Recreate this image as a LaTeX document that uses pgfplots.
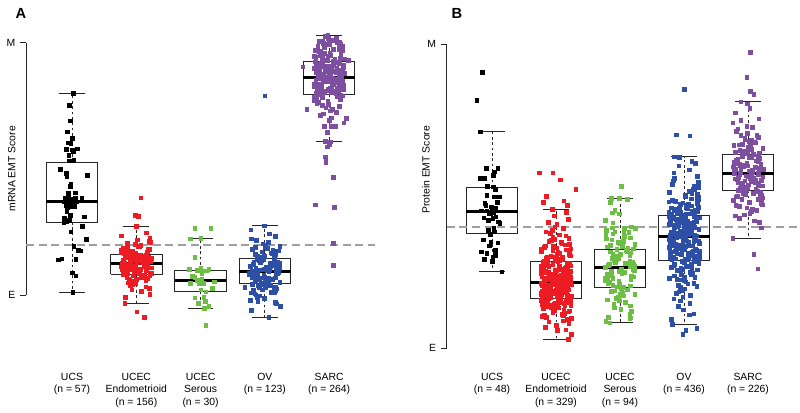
\documentclass[border=0pt]{standalone}
\usepackage{pgfplots}
\pgfplotsset{compat=1.18}
\usepackage{pgfplotstable}
\usepackage{fontspec}
\setmainfont{Liberation Sans}
\definecolor{cRed}{HTML}{ED1C24}
\definecolor{cGreen}{HTML}{6CBE45}
\definecolor{cBlue}{HTML}{2E4FA6}
\definecolor{cPurple}{HTML}{7E4FA1}
\newcommand\ff{\fontsize{7.8}{9.4}\selectfont}
\pgfplotsset{
 pts/.style={only marks, mark=square*, mark size=1.35pt, #1},
 boxln/.style={black!85, line width=0.6pt, solid, unbounded coords=jump, mark=none},
 whisk/.style={black!85, line width=0.6pt, dash pattern=on 2pt off 2pt, unbounded coords=jump, mark=none},
 medln/.style={black, line width=2.2pt, unbounded coords=jump, mark=none},
 emt/.style={
  scale only axis, clip=false,
  ymin=0, ymax=1000,
  axis y line*=left, axis x line*=bottom,
  x axis line style={draw=none},
  y axis line style={draw=black!85, line width=0.6pt, -},
  xtick={1,2,3,4,5},
  xtick style={draw=none},
  ytick={0,1000}, yticklabels={E,M},
  ytick style={draw=black!85, line width=0.6pt},
  tick align=outside, major tick length=4.5pt,
  tick label style={font=\ff},
  xticklabel style={align=center, anchor=north},
  label style={font=\ff},
 }
}

% ---------- Panel A (mRNA), y: E=0, M=1000 ----------
\pgfplotstableread{
dx y
2 799
-4 753
-3 690
-7 647
0 621
-2 601
-6 604
-9 577
0 575
8 579
2 568
-5 555
3 535
-4 532
-18 499
-9 482
-8 469
24 474
-2 439
-3 432
5 405
-6 403
-11 384
-8 379
0 381
5 384
15 384
-12 370
-4 366
-9 355
3 360
-6 372
-2 376
7 370
-1 350
-7 345
4 352
-8 333
-3 317
-12 304
19 310
-13 287
-9 290
-4 296
16 273
-2 251
22 221
3 194
10 178
13 176
-21 139
-16 143
6 141
0 88
6 77
1 11
-5 390
}\tAucs

\pgfplotstableread{
dx y
-18 -32
-17 -8
21 4
8 14
-7 20
20 26
15 32
-9 36
-6 40
-2 44
-12 48
-3 51
-6 54
-9 57
15 59
0 62
-11 65
17 67
-15 69
11 72
10 74
-5 76
21 78
12 80
-20 82
4 84
-15 86
23 87
0 89
-3 91
5 93
-13 95
-21 97
16 98
7 100
-22 101
-11 103
6 104
-21 106
24 108
18 109
-11 111
-23 112
-1 114
-12 115
-8 117
-14 119
-16 120
-22 122
15 123
16 125
-18 126
15 127
18 129
1 130
-9 132
16 133
-10 135
8 136
-1 137
-20 139
-6 140
-3 142
5 144
23 145
0 146
4 148
-14 149
-9 151
11 153
2 154
5 156
-5 158
16 159
-11 161
-1 163
-19 164
-16 167
-2 168
-24 170
17 172
-20 174
-11 176
-24 178
21 181
18 183
-14 186
-20 188
3 191
5 194
7 197
-2 201
-14 205
22 209
20 214
2 219
21 225
-23 234
16 246
0 273
7 386
-2 317
3 312
1 -66
12 -88
-5 110
9 128
-14 95
19 150
-8 118
4 138
-19 105
12 122
-1 143
22 131
-13 85
6 160
-22 126
14 113
-6 176
0 99
17 141
-10 133
8 70
-17 155
}\tAendo

\pgfplotstableread{
dx y
-9 264
16 264
-16 223
0 225
-9 149
-18 102
-5 99
0 106
4 96
9 96
13 102
2 86
-9 70
-5 59
2 62
21 53
-16 46
-3 44
4 46
0 20
8 13
18 26
-9 -11
5 -9
7 -24
-4 -33
13 -44
6 -53
8 -119
-13 75
}\tAser

\pgfplotstableread{
dx y
6 -89
-21 -60
24 -45
18 -35
-11 -27
-23 -20
-1 -13
-12 -8
-8 -3
-14 1
-16 5
-22 9
15 12
16 16
-18 19
15 22
18 25
1 28
-9 30
16 33
-10 36
8 38
-1 40
-20 43
-6 45
-3 47
5 49
23 51
0 54
4 56
-14 58
-9 60
11 62
2 63
5 66
-5 68
16 69
-11 71
-1 73
-19 75
-16 77
-2 79
-24 81
17 83
-20 84
-11 86
-24 88
21 90
18 91
-14 93
-20 95
3 97
5 99
7 101
-2 102
-14 105
22 106
20 108
2 110
21 112
-23 115
16 116
23 118
-18 121
-17 122
21 124
8 127
-7 128
20 130
15 133
-9 135
-6 137
-2 140
-12 142
-3 144
-6 146
-9 149
15 152
0 154
-11 156
17 159
-15 162
11 165
10 168
-5 172
21 175
12 178
-20 181
4 185
-15 189
23 194
0 198
-3 203
5 209
-13 216
-21 223
16 232
7 243
-22 259
-1 275
0 789
-7 100
12 60
-17 130
20 85
3 45
-12 150
9 115
-4 20
14 175
-20 70
6 92
-9 140
18 105
-15 55
1 190
23 125
-23 80
10 10
-2 160
16 -30
-31 31
}\tAov

\pgfplotstableread{
dx y
-6 610
-3 646
5 667
23 682
0 693
4 703
-14 712
-9 718
11 725
2 731
5 737
-5 742
16 747
-11 752
-1 756
-19 760
-16 765
-2 769
-24 772
17 776
-20 780
-11 783
-24 786
21 790
18 793
-14 796
-20 799
3 802
5 805
7 808
-2 811
-14 813
22 816
20 818
2 821
21 824
-23 826
16 829
23 832
-18 834
-17 837
21 840
8 842
-7 845
20 847
15 850
-9 852
-6 855
-2 857
-12 860
-3 862
-6 865
-9 867
15 870
0 871
-11 874
17 876
-15 879
11 881
10 884
-5 887
21 889
12 891
-20 894
4 896
-15 899
23 902
0 904
-3 907
5 909
-13 912
-21 915
16 918
7 921
-22 924
-11 927
6 929
-21 933
24 936
18 939
-11 943
-23 947
-1 949
-12 953
-8 958
-14 962
-16 966
-22 970
15 975
16 980
-18 985
15 990
18 993
1 995
-9 998
16 1002
-10 1005
8 1010
-1 1017
-2 1029
10 800
-8 810
13 820
-15 830
4 840
-21 850
9 855
-4 865
19 870
-12 875
2 880
-17 885
14 890
-6 895
22 900
-10 905
6 910
-19 915
11 920
-3 930
17 940
-14 950
1 960
20 970
-8 980
12 785
-16 795
8 805
-1 815
-22 825
15 835
-9 845
5 860
-18 868
18 878
-5 888
-23 898
3 908
-13 918
9 928
-7 803
14 808
-19 814
3 819
21 823
-12 828
6 833
-23 838
17 843
-3 848
10 853
-15 858
1 863
19 868
-9 873
24 878
-20 883
7 888
-1 893
12 898
-17 903
4 908
22 913
-11 918
15 923
-5 928
9 935
-21 942
2 950
18 958
-13 965
6 973
-8 980
20 988
-2 995
13 1000
-16 1006
0 1012
11 1020
-6 1025
6 119
6 205
-22 358
8 347
6 466
-5 525
-5 540
0 595
2 608
-3 588
-6 548
3 670
-8 670
10 670
27 700
-35 737
-41 905
30 930
}\tAsarc

% ---------- Panel B (protein) ----------
\pgfplotstableread{
dx y
-15 908
-24 815
-18 712
-9 592
9 592
4 581
2 570
-19 559
-12 559
-7 534
2 532
5 523
-8 504
4 499
11 499
-11 477
-1 466
5 460
-17 452
-8 453
-3 442
2 446
6 433
12 411
10 416
1 428
-6 422
-6 389
4 384
-3 376
-14 357
9 347
-4 337
5 323
-17 318
-8 312
1 301
-12 293
0 287
5 307
15 252
-10 470
8 480
-4 445
0 455
3 395
-2 350
-13 430
}\tBucs

\pgfplotstableread{
dx y
19 30
15 61
0 76
-11 87
17 95
-15 102
11 108
10 113
-5 118
21 123
12 127
-20 131
4 134
-15 138
23 141
0 144
-3 147
5 150
-13 152
-21 155
16 158
7 160
-22 162
-11 165
6 167
-21 169
24 172
18 174
-11 176
-23 178
-1 180
-12 182
-8 185
-14 186
-16 188
-22 190
15 192
16 194
-18 196
15 198
18 200
1 202
-9 203
16 205
-10 207
8 209
-1 211
-20 213
-6 214
-3 216
5 218
23 221
0 223
4 226
-14 228
-9 231
11 233
2 236
5 238
-5 241
16 244
-11 246
-1 249
-19 252
-16 254
-2 257
-24 260
17 262
-20 265
-11 269
-24 272
21 275
18 278
-14 281
-20 284
3 287
5 290
7 294
-2 297
-14 300
22 304
20 308
2 311
21 315
-23 320
16 324
23 328
-18 333
-17 338
21 343
8 349
-7 355
20 362
15 370
-9 378
-6 389
-2 400
-12 415
-3 436
-6 457
24 46
-17 69
20 82
11 91
24 99
-21 105
-18 111
14 116
20 121
-3 125
-5 129
-7 133
2 136
14 140
-22 143
-20 146
-2 149
-21 151
23 154
-16 157
-23 159
18 161
17 164
-21 166
-8 168
7 171
-20 173
-15 175
9 177
6 179
2 181
12 184
3 186
6 187
9 189
-15 191
0 193
11 195
-17 197
15 199
-11 201
-10 203
5 204
-21 206
-12 208
20 210
-4 212
15 214
-23 215
0 217
3 220
-5 222
13 225
21 227
-16 230
-7 232
22 235
11 237
-6 240
21 243
-24 245
-18 248
11 251
23 253
1 256
12 259
8 261
14 264
16 267
22 271
-15 274
-16 277
18 280
-15 283
-18 286
-1 289
9 292
-16 296
10 299
-8 302
1 306
20 310
6 313
3 318
-5 322
-23 326
0 331
-4 336
14 341
9 346
-11 352
-2 359
-5 366
5 374
-16 384
11 395
1 408
19 425
16 447
2 60
-8 142
13 148
-20 153
4 158
22 163
-13 168
1 172
17 177
-24 181
9 185
-4 189
19 193
-16 197
6 201
-10 205
24 209
-1 213
11 217
-18 221
3 225
15 229
-7 233
-22 238
8 242
20 247
-12 251
0 256
14 261
-19 266
5 271
-5 276
21 282
-14 288
10 294
-2 300
16 152
-21 186
7 214
-9 244
18 268
-26 578
-5 578
7 554
31 523
-15 500
12 485
18 470
-20 480
}\tBendo

\pgfplotstableread{
dx y
-16 84
-22 90
15 97
16 100
-18 103
15 112
18 121
1 128
-9 134
16 140
-10 146
8 151
-1 156
-20 160
-6 164
-3 168
5 173
23 177
0 180
4 183
-14 187
-9 190
11 193
2 197
5 200
-5 203
16 206
-11 208
-1 211
-19 214
-16 217
-2 220
-24 223
17 225
-20 228
-11 230
-24 232
21 235
18 238
-14 240
-20 243
3 246
5 248
7 251
-2 253
-14 255
22 257
20 260
2 262
21 265
-23 267
16 270
23 271
-18 274
-17 276
21 278
8 280
-7 283
20 285
15 287
-9 290
-6 292
-2 294
-12 297
-3 299
-6 302
-9 304
15 306
0 309
-11 311
17 314
-15 317
11 319
10 322
-5 325
21 327
12 330
-20 334
4 336
-15 339
23 343
0 346
-3 349
5 352
-13 357
-21 361
16 364
7 369
-22 373
-11 377
6 383
-21 388
24 394
18 400
-11 413
-23 422
-1 442
-12 446
-8 455
-14 493
2 534
-1 493
11 490
-15 480
14 381
-8 384
7 395
-12 397
}\tBser

\pgfplotstableread{
dx y
20 66
15 114
-9 139
-6 156
-2 169
-12 181
-3 191
-6 200
-9 208
15 215
0 222
-11 228
17 233
-15 239
11 244
10 249
-5 255
21 259
12 263
-20 267
4 272
-15 276
23 279
0 284
-3 287
5 291
-13 294
-21 298
16 301
7 305
-22 308
-11 312
6 315
-21 318
24 321
18 325
-11 327
-23 331
-1 334
-12 336
-8 340
-14 343
-16 346
-22 349
15 352
16 355
-18 357
15 361
18 363
1 367
-9 369
16 372
-10 374
8 377
-1 379
-20 382
-6 384
-3 387
5 389
23 392
0 395
4 397
-14 400
-9 403
11 405
2 408
5 411
-5 413
16 416
-11 420
-1 423
-19 426
-16 429
-2 432
-24 435
17 438
-20 441
-11 445
-24 448
21 451
18 455
-14 459
-20 462
3 466
5 471
7 475
-2 479
-14 484
22 489
20 494
2 500
21 506
-23 513
16 521
23 529
-18 540
-17 551
21 566
8 587
-7 629
-18 79
-1 127
9 148
-16 163
10 175
-8 186
1 196
20 204
6 212
3 219
-5 225
-23 231
0 236
-4 242
14 247
9 252
-11 257
-2 261
-5 265
5 270
-16 274
11 278
1 282
19 286
16 289
2 293
24 296
-17 300
20 303
11 307
24 310
-21 314
-18 317
14 320
20 323
-3 326
-5 329
-7 333
2 335
14 338
-22 342
-20 345
-2 348
-21 351
23 354
-16 356
-23 359
18 362
17 365
-21 368
-8 371
7 373
-20 376
-15 378
9 381
6 383
2 386
12 388
3 391
6 394
9 396
-15 399
0 402
11 404
-17 407
15 410
-11 412
-10 415
5 418
-21 422
-12 425
20 428
-4 431
15 434
-23 437
0 440
3 443
-5 447
13 450
21 453
-16 457
-7 461
22 464
11 469
-6 473
21 477
-24 482
-18 487
11 492
23 497
1 503
12 510
8 517
14 525
16 535
22 546
-15 559
-16 577
18 608
-15 630
-19 292
7 297
22 303
-4 309
13 314
-14 319
1 324
18 328
-23 333
9 337
-8 341
24 345
-17 350
4 354
15 358
-2 362
-12 366
20 370
-21 374
6 378
11 382
-6 386
-16 390
23 393
0 397
-10 401
14 405
-24 409
8 413
19 417
-3 421
-13 425
2 429
17 433
-20 438
10 442
-7 446
21 450
-15 455
5 460
12 318
-18 340
3 360
-9 380
16 398
-1 415
24 430
-22 300
7 350
-5 440
0 853
-12 702
9 699
-2 46
3 60
-8 600
12 615
-20 95
8 110
}\tBov

\pgfplotstableread{
dx y
-24 363
21 397
18 414
-14 427
-20 436
3 444
5 451
7 457
-2 463
-14 468
22 472
20 477
2 481
21 485
-23 488
16 491
23 495
-18 499
-17 501
21 504
8 508
-7 510
20 513
15 516
-9 518
-6 521
-2 523
-12 526
-3 528
-6 531
-9 533
15 536
0 538
-11 540
17 542
-15 545
11 546
10 549
-5 551
21 553
12 555
-20 558
4 559
-15 562
23 564
0 566
-3 568
5 570
-13 572
-21 574
16 576
7 579
-22 581
-11 583
6 585
-21 588
24 590
18 592
-11 594
-23 597
-1 600
-12 602
-8 604
-14 607
-16 609
-22 612
15 615
16 616
-18 619
15 622
18 625
1 627
-9 630
16 633
-10 636
8 638
-1 641
-20 645
-6 648
-3 650
5 654
23 658
0 661
4 664
-14 669
-9 672
11 676
2 681
5 685
-5 690
16 695
-11 701
-1 707
-19 714
-16 722
-2 731
-24 742
17 755
-20 775
-11 811
10 420
-6 440
14 455
-19 470
3 480
-10 490
19 500
-4 506
8 512
-15 520
12 525
-1 530
22 535
-8 543
5 548
-17 555
9 561
-3 567
16 573
-12 578
1 584
-20 589
11 595
-7 599
20 605
-2 611
13 617
-16 623
6 629
-9 635
18 643
-13 652
2 660
-22 668
10 678
-5 688
14 700
-18 712
7 728
-11 750
3 790
-1 805
4 973
-2 891
4 845
9 835
9 309
15 262
}\tBsarc

\begin{document}
\begin{tikzpicture}
\useasboundingbox (0,0) rectangle (600pt,309.75pt);

% ================= Panel A =================
\begin{axis}[emt,
  at={(19.5pt,88.5pt)}, anchor=south west,
  width=261.7pt, height=189.2pt,
  xmin=0.285, xmax=5.712,
  xticklabels={{UCS\\(n = 57)},{UCEC\\Endometrioid\\(n = 156)},{UCEC\\Serous\\(n = 30)},{OV\\(n = 123)},{SARC\\(n = 264)}},
  xticklabel style={yshift=-50.3pt},
  ylabel={mRNA EMT Score},
  ylabel style={at={(axis description cs:-0.041,0.5)}, anchor=center},
]
\addplot[pts=black] table[x expr=1+\thisrow{dx}/100, y=y]{\tAucs};
\addplot[pts=cRed] table[x expr=2+\thisrow{dx}/100, y=y]{\tAendo};
\addplot[pts=cGreen] table[x expr=3+\thisrow{dx}/100, y=y]{\tAser};
\addplot[pts=cBlue] table[x expr=4+\thisrow{dx}/100, y=y]{\tAov};
\addplot[pts=cPurple] table[x expr=5+\thisrow{dx}/100, y=y]{\tAsarc};
% whiskers (dashed)
\addplot[whisk] coordinates {(1,526)(1,799)(nan,nan)(1,289)(1,11)(nan,nan)(2,162)(2,273)(nan,nan)(2,83)(2,-32)(nan,nan)(3,99)(3,225)(nan,nan)(3,13)(3,-53)(nan,nan)(4,145)(4,275)(nan,nan)(4,46)(4,-90)(nan,nan)(5,925)(5,1029)(nan,nan)(5,794)(5,610)};
% whisker caps
\addplot[boxln] coordinates {(0.8,799)(1.2,799)(nan,nan)(0.8,11)(1.2,11)(nan,nan)(1.8,273)(2.2,273)(nan,nan)(1.8,-32)(2.2,-32)(nan,nan)(2.8,225)(3.2,225)(nan,nan)(2.8,-53)(3.2,-53)(nan,nan)(3.8,275)(4.2,275)(nan,nan)(3.8,-90)(4.2,-90)(nan,nan)(4.8,1029)(5.2,1029)(nan,nan)(4.8,610)(5.2,610)};
% boxes
\addplot[boxln] coordinates {(0.6,289)(1.4,289)(1.4,526)(0.6,526)(0.6,289)(nan,nan)(1.6,83)(2.4,83)(2.4,162)(1.6,162)(1.6,83)(nan,nan)(2.6,13)(3.4,13)(3.4,99)(2.6,99)(2.6,13)(nan,nan)(3.6,46)(4.4,46)(4.4,145)(3.6,145)(3.6,46)(nan,nan)(4.6,794)(5.4,794)(5.4,925)(4.6,925)(4.6,794)};
% medians
\addplot[medln] coordinates {(0.6,371)(1.4,371)(nan,nan)(1.6,124)(2.4,124)(nan,nan)(2.6,57)(3.4,57)(nan,nan)(3.6,94)(4.4,94)(nan,nan)(4.6,861)(5.4,861)};
% reference line
\addplot[gray!75, line width=1.5pt, dash pattern=on 6pt off 3.5pt] coordinates {(0.285,198) (5.712,198)};
\end{axis}

% ================= Panel B =================
\begin{axis}[emt,
  at={(335pt,48.5pt)}, anchor=south west,
  width=265pt, height=228pt,
  xmin=0.292, xmax=5.8125,
  xticklabels={{UCS\\(n = 48)},{UCEC\\Endometrioid\\(n = 329)},{UCEC\\Serous\\(n = 94)},{OV\\(n = 436)},{SARC\\(n = 226)}},
  xticklabel style={yshift=-10.3pt},
  ylabel={Protein EMT Score},
  ylabel style={at={(axis description cs:-0.0586,0.587)}, anchor=center},
]
\addplot[pts=black] table[x expr=1+\thisrow{dx}/100, y=y]{\tBucs};
\addplot[pts=cRed] table[x expr=2+\thisrow{dx}/100, y=y]{\tBendo};
\addplot[pts=cGreen] table[x expr=3+\thisrow{dx}/100, y=y]{\tBser};
\addplot[pts=cBlue] table[x expr=4+\thisrow{dx}/100, y=y]{\tBov};
\addplot[pts=cPurple] table[x expr=5+\thisrow{dx}/100, y=y]{\tBsarc};
\addplot[whisk] coordinates {(1,528)(1,712)(nan,nan)(1,378)(1,252)(nan,nan)(2,285)(2,457)(nan,nan)(2,164)(2,30)(nan,nan)(3,326)(3,493)(nan,nan)(3,201)(3,84)(nan,nan)(4,436)(4,630)(nan,nan)(4,289)(4,79)(nan,nan)(5,637)(5,811)(nan,nan)(5,520)(5,362)};
\addplot[boxln] coordinates {(0.8,712)(1.2,712)(nan,nan)(0.8,252)(1.2,252)(nan,nan)(1.8,457)(2.2,457)(nan,nan)(1.8,30)(2.2,30)(nan,nan)(2.8,493)(3.2,493)(nan,nan)(2.8,84)(3.2,84)(nan,nan)(3.8,630)(4.2,630)(nan,nan)(3.8,79)(4.2,79)(nan,nan)(4.8,811)(5.2,811)(nan,nan)(4.8,362)(5.2,362)};
\addplot[boxln] coordinates {(0.6,378)(1.4,378)(1.4,528)(0.6,528)(0.6,378)(nan,nan)(1.6,164)(2.4,164)(2.4,285)(1.6,285)(1.6,164)(nan,nan)(2.6,201)(3.4,201)(3.4,326)(2.6,326)(2.6,201)(nan,nan)(3.6,289)(4.4,289)(4.4,436)(3.6,436)(3.6,289)(nan,nan)(4.6,520)(5.4,520)(5.4,637)(4.6,637)(4.6,520)};
\addplot[medln] coordinates {(0.6,451)(1.4,451)(nan,nan)(1.6,217)(2.4,217)(nan,nan)(2.6,266)(3.4,266)(nan,nan)(3.6,368)(4.4,368)(nan,nan)(4.6,575)(5.4,575)};
\addplot[gray!75, line width=1.5pt, dash pattern=on 6pt off 3.5pt] coordinates {(0.292,400) (5.8125,400)};
\end{axis}

\node[font=\bfseries\fontsize{11}{13}\selectfont] at (15.75pt,299.3pt) {A};
\node[font=\bfseries\fontsize{11}{13}\selectfont] at (342.75pt,299.3pt) {B};
\end{tikzpicture}
\end{document}
